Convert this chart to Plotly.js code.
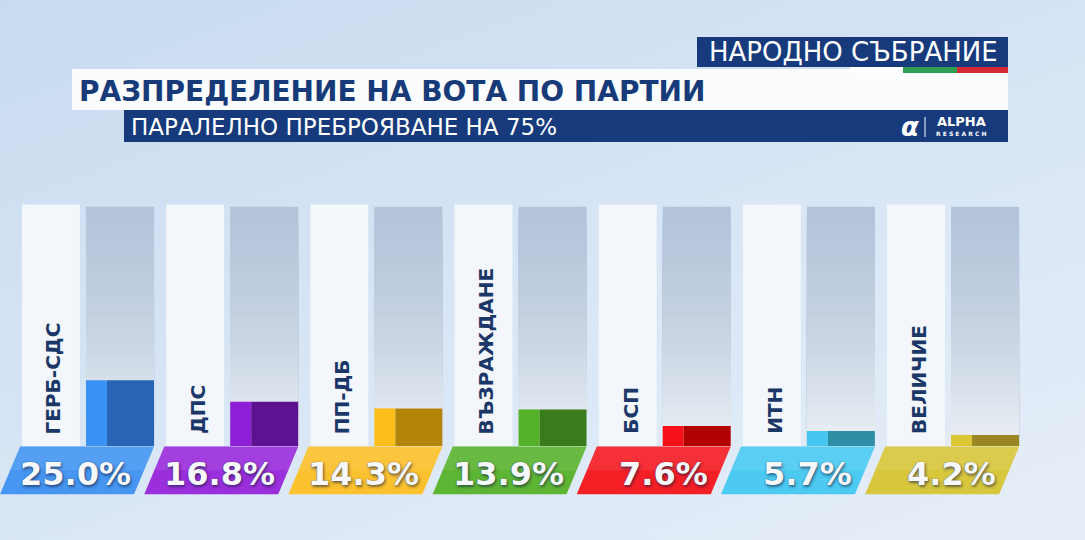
<!DOCTYPE html>
<html><head><meta charset="utf-8">
<script src="https://cdn.plot.ly/plotly-3.0.1.min.js"></script>
<style>
html,body{margin:0;padding:0;width:1085px;height:540px;overflow:hidden;
background: linear-gradient(160deg,#c9dbf0 0%,#d4e3f4 40%,#dfeaf7 75%,#e6eef8 100%);}
#chart{width:1085px;height:540px;}
</style></head><body><div id="chart"></div>
<script>
// ---- data ----
const parties = ['ГЕРБ-СДС','ДПС','ПП-ДБ','ВЪЗРАЖДАНЕ','БСП','ИТН','ВЕЛИЧИЕ'];
const votes = [25.0, 16.8, 14.3, 13.9, 7.6, 5.7, 4.2];
const voteLabels = ['25.0%','16.8%','14.3%','13.9%','7.6%','5.7%','4.2%'];
const lightColors = ['#3a92f5','#8d1fd8','#fbbd17','#55b02a','#f5101a','#45c6f1','#dac633'];
const darkColors  = ['#2864b4','#5e1190','#b38407','#3a7c1c','#b00000','#2e8ea6','#9a8622'];
const labelColors = ['#4696f2','#9b2fdc','#fbc12e','#5db534','#f51f26','#4ccaf2','#d8c73d'];
const trackTop = 91;
const headerTitle = 'НАРОДНО СЪБРАНИЕ';
const mainTitle = 'РАЗПРЕДЕЛЕНИЕ НА ВОТА ПО ПАРТИИ';
const subTitle = 'ПАРАЛЕЛНО ПРЕБРОЯВАНЕ НА 75%';

// ---- helpers ----
const W = 1085, H = 540;
const px = x => x / W;
const py = y => 1 - y / H;
const xs = parties.map((p, i) => i);
const NAVY = '#163a7b';
const FONT = 'DejaVu Sans';

function hex2rgb(h){return [1,3,5].map(k=>parseInt(h.substr(k,2),16));}
function lerpColor(stops, f){
  for(let k=0;k<stops.length-1;k++){
    const a=stops[k], b=stops[k+1];
    if(f<=b[0]){
      const t=(f-a[0])/(b[0]-a[0]);
      const ca=hex2rgb(a[1]), cb=hex2rgb(b[1]);
      return 'rgb('+ca.map((v,j)=>Math.round(v+(cb[j]-v)*t)).join(',')+')';
    }
  }
  return stops[stops.length-1][1];
}
const trackStops = [[0,'#eef2f7'],[0.25,'#d9e1eb'],[0.55,'#c5d1e1'],[1,'#b2c3da']];

const traces = [];
// white label panels
traces.push({type:'bar', x:xs, y:xs.map(()=>trackTop+0.8), base:0,
  offset:-0.5, width:0.402, marker:{color:'#f3f6fa', line:{width:0}}, hoverinfo:'skip'});
// gradient tracks (overlapping bands, tallest first)
const N = 24;
for(let k=0;k<N;k++){
  const h = trackTop*(1-k/N);
  traces.push({type:'bar', x:xs, y:xs.map(()=>h), base:0,
    offset:-0.056, width:0.4717,
    marker:{color:lerpColor(trackStops, 1-k/N), line:{width:0}}, hoverinfo:'skip'});
}
// vote bars: light left part and dark right part
traces.push({type:'bar', x:xs, y:votes, base:0, offset:-0.056, width:0.1457,
  marker:{color:lightColors, line:{width:0}}, hoverinfo:'skip'});
traces.push({type:'bar', x:xs, y:votes, base:0, offset:0.0896, width:0.326,
  marker:{color:darkColors, line:{width:0}}, hoverinfo:'skip'});
// slanted label plates
xs.forEach((i, n) => {
  traces.push({type:'scatter', mode:'lines', fill:'toself',
    x:[i-0.513, i+0.416, i+0.277, i-0.652, i-0.513],
    y:[-0.2, -0.2, -18.3, -18.3, -0.2],
    line:{width:0, color:labelColors[n]}, fillcolor:labelColors[n], hoverinfo:'skip'});
  traces.push({type:'scatter', mode:'lines', fill:'toself',
    x:[i-0.513, i+0.416, i+0.347, i-0.582, i-0.513],
    y:[-0.2, -0.2, -9.2, -9.2, -0.2],
    line:{width:0, color:'rgba(255,255,255,0.08)'}, fillcolor:'rgba(255,255,255,0.08)', hoverinfo:'skip'});
});

const annotations = [];
xs.forEach((i, n) => {
  annotations.push({x:i+0.27, y:-10.8, xref:'x', yref:'y', text:voteLabels[n],
    xanchor:'right', yanchor:'middle', showarrow:false,
    font:{family:FONT, size:32, weight:700, color:'#f7f8fb',
      shadow:'0px 0px 1px rgba(15,25,60,0.7), 1px 2px 3px rgba(15,25,60,0.55)'}});
  annotations.push({x:i-0.282, y:3.8, xref:'x', yref:'y', text:parties[n],
    xanchor:'center', yanchor:'bottom', textangle:-90, showarrow:false,
    font:{family:FONT, size:20, weight:700, color:'#1a3768'}});
});
// header texts
annotations.push({xref:'paper', yref:'paper', x:px(853), y:py(52), text:headerTitle,
  xanchor:'center', yanchor:'middle', showarrow:false,
  font:{family:FONT, size:26, color:'#ffffff'}});
annotations.push({xref:'paper', yref:'paper', x:px(77), y:py(91), text:mainTitle,
  xanchor:'left', yanchor:'middle', showarrow:false,
  font:{family:FONT, size:28, weight:700, color:'#173a78'}});
annotations.push({xref:'paper', yref:'paper', x:px(129), y:py(127), text:subTitle,
  xanchor:'left', yanchor:'middle', showarrow:false,
  font:{family:FONT, size:23, color:'#ffffff'}});
// logo
annotations.push({xref:'paper', yref:'paper', x:px(910), y:py(127), text:'<i><b>α</b></i>',
  xanchor:'center', yanchor:'middle', showarrow:false,
  font:{family:FONT, size:26, color:'#ffffff'}});
annotations.push({xref:'paper', yref:'paper', x:px(961), y:py(122), text:'ALPHA',
  xanchor:'center', yanchor:'middle', showarrow:false,
  font:{family:FONT, size:13, weight:700, color:'#ffffff'}});
annotations.push({xref:'paper', yref:'paper', x:px(961), y:py(134), text:'R E S E A R C H',
  xanchor:'center', yanchor:'middle', showarrow:false,
  font:{family:FONT, size:6, weight:700, color:'#ffffff'}});

const shapes = [
  {type:'rect', xref:'paper', yref:'paper', x0:px(697), x1:px(1008), y0:py(37), y1:py(67), fillcolor:NAVY, line:{width:0}, layer:'above'},
  {type:'rect', xref:'paper', yref:'paper', x0:px(72), x1:px(1008), y0:py(69), y1:py(110), fillcolor:'#fbfcfe', line:{width:0}, layer:'above'},
  {type:'rect', xref:'paper', yref:'paper', x0:px(850), x1:px(903), y0:py(67), y1:py(73), fillcolor:'#ffffff', line:{width:0}, layer:'above'},
  {type:'rect', xref:'paper', yref:'paper', x0:px(903), x1:px(957), y0:py(67), y1:py(73), fillcolor:'#2f9d52', line:{width:0}, layer:'above'},
  {type:'rect', xref:'paper', yref:'paper', x0:px(957), x1:px(1008), y0:py(67), y1:py(73), fillcolor:'#d42a35', line:{width:0}, layer:'above'},
  {type:'rect', xref:'paper', yref:'paper', x0:px(124), x1:px(1008), y0:py(110), y1:py(142), fillcolor:NAVY, line:{width:0}, layer:'above'},
  {type:'line', xref:'paper', yref:'paper', x0:px(925), x1:px(925), y0:py(117), y1:py(137), line:{width:1, color:'#ffffff'}, layer:'above'}
];

const layout = {
  width:W, height:H, margin:{l:0,r:0,t:0,b:0},
  paper_bgcolor:'rgba(0,0,0,0)', plot_bgcolor:'rgba(0,0,0,0)',
  showlegend:false, barmode:'overlay',
  xaxis:{range:[-0.6526, 6.873], visible:false, fixedrange:true},
  yaxis:{range:[-35.74, 169.58], visible:false, fixedrange:true},
  shapes:shapes, annotations:annotations
};
Plotly.newPlot('chart', traces, layout, {staticPlot:true, displayModeBar:false});
</script></body></html>
